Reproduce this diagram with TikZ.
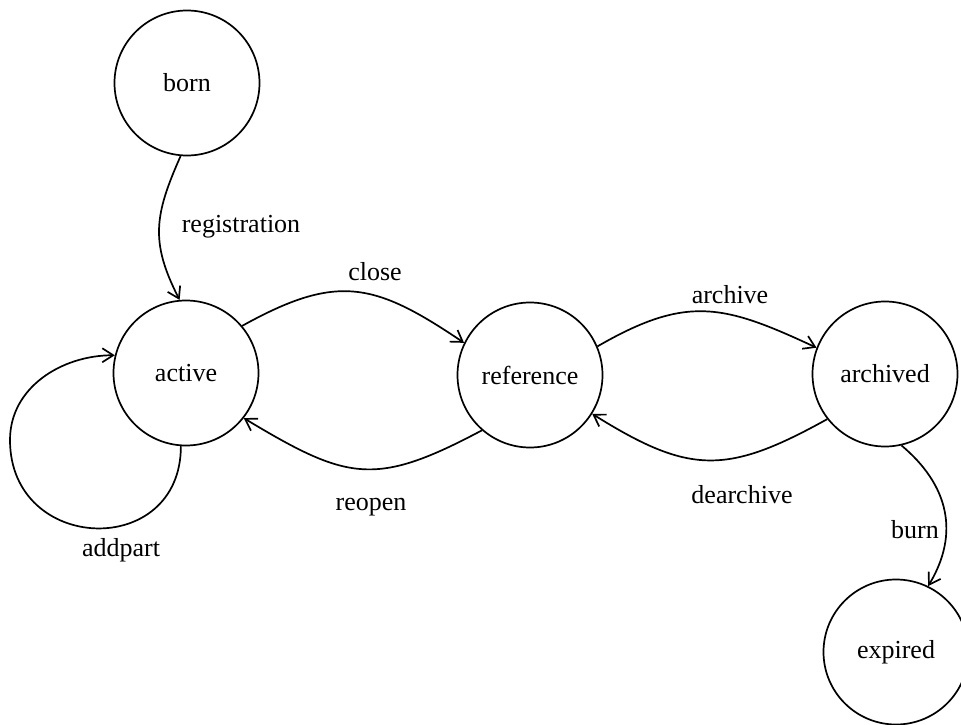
\documentclass[tikz,border=0pt]{standalone}
\usepackage{fontspec}
\setmainfont{Liberation Serif}
\usetikzlibrary{arrows.meta}
\tikzset{
  state/.style={circle, draw, line width=1.7pt, minimum size=145pt, inner sep=0pt, font=\fontsize{26}{30}\selectfont},
  lbl/.style={font=\fontsize{26}{30}\selectfont, inner sep=0pt},
  arr/.style={line width=1.7pt, -{Straight Barb[length=11pt,width=14pt,line width=1.7pt]}}
}
\begin{document}
\begin{tikzpicture}[x=1pt,y=-1pt]
\useasboundingbox (0,0) rectangle (961,725);
\node[state] (born) at (187,83) {born};
\node[state] (active) at (186,373) {active};
\node[state] (reference) at (530,375) {reference};
\node[state] (archived) at (885,374) {archived};
\node[state] (expired) at (896,652) {expired};

\node[lbl] (lreg) at (241,227) {registration};
\node[lbl] (lclose) at (375,272) {close};
\node[lbl] (larchive) at (730,295) {archive};
\node[lbl] (lreopen) at (371,507) {reopen};
\node[lbl] (ldearchive) at (742,495) {dearchive};
\node[lbl] (laddpart) at (121,550) {addpart};
\node[lbl] (lburn) at (915,530) {burn};

\coordinate (loopL) at (10,440);

\draw[arr] (born.-95) to[out=-114,in=117,looseness=1.15] (active.95);
\draw[arr] (active.40) to[out=29,in=146,looseness=1.25] (reference.154);
\draw[arr] (reference.-131) to[out=-152,in=-31,looseness=1.3] (active.-38);
\draw[arr] (reference.23) to[out=30,in=155,looseness=1.2] (archived.159);
\draw[arr] (archived.-142) to[out=-151,in=-32,looseness=1.25] (reference.-32);
\draw[arr] (archived.-77) to[out=-40,in=59,looseness=1.1] (expired.64);
\draw[arr] (active.-94) to[out=-90,in=-90,looseness=1.7] (loopL) to[out=90,in=180,looseness=1] (active.166);
\end{tikzpicture}
\end{document}
